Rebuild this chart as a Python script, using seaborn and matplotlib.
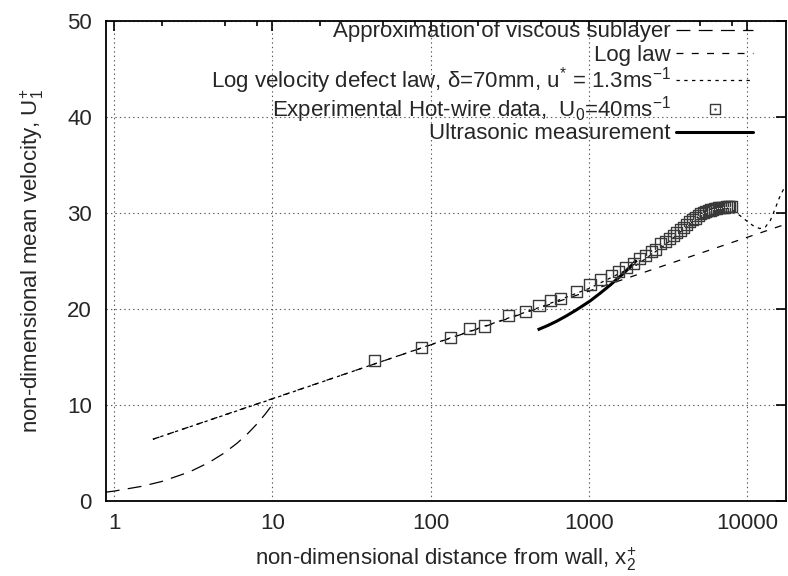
import numpy as np
import pandas as pd
import matplotlib
matplotlib.use("Agg")
import matplotlib.pyplot as plt
import seaborn as sns
from matplotlib.lines import Line2D
from matplotlib.legend import Legend
from matplotlib.legend_handler import HandlerTuple
from matplotlib.ticker import FixedLocator, NullFormatter

# ---------------- data ----------------
visc_x = [0.887, 1.0, 1.5, 2.0, 3.0, 4.0, 5.0, 6.0, 7.0, 8.0, 9.0, 10.0]
visc_y = [0.887, 1.0, 1.5, 2.0, 3.0, 4.0, 5.0, 6.0, 7.0, 8.0, 9.0, 10.0]

loglaw_x = [1.76, 17500]
loglaw_y = [6.4, 28.8]

defect_x = [1.76, 10, 100, 300, 500, 1000, 2000, 3000, 4000, 5000, 6000, 7000,
            8000, 9000, 10000, 11000, 12000, 13000, 14000, 15000, 16000, 17500]
defect_y = [6.4, 10.6, 16.25, 18.95, 20.2, 22.1, 24.55, 26.6, 28.35, 29.7, 30.45, 30.6,
            30.3, 29.7, 29.1, 28.6, 28.35, 28.5, 29.2, 30.4, 31.6, 32.9]

hw_x = [44, 88, 133, 176, 218, 310, 399, 484, 571, 660, 838, 1016, 1188, 1381, 1543,
        1715, 1909, 2081, 2285, 2470, 2650, 2850, 3030, 3220, 3400, 3590, 3780, 3960,
        4150, 4340, 4530, 4720, 4910, 5100, 5290, 5480, 5670, 5860, 6050, 6240, 6430,
        6620, 6810, 7000, 7190, 7380, 7570, 7760, 7950]
hw_y = [14.6, 16.0, 17.0, 17.9, 18.2, 19.3, 19.7, 20.35, 20.85, 21.05, 21.75, 22.5, 23.0,
        23.5, 23.9, 24.3, 24.75, 25.2, 25.5, 25.95, 26.2, 26.75, 27.0, 27.35, 27.65, 27.95,
        28.2, 28.5, 28.75, 29.05, 29.25, 29.45, 29.7, 29.9, 30.0, 30.12, 30.2, 30.28, 30.35,
        30.4, 30.45, 30.5, 30.52, 30.55, 30.58, 30.6, 30.6, 30.62, 30.62]

us_x = [474, 550, 626, 720, 838, 1016, 1175, 1371, 1660, 2004]
us_y = [17.8, 18.25, 18.7, 19.25, 19.9, 20.8, 21.6, 22.5, 23.7, 25.05]

x_ticks = [1, 10, 100, 1000, 10000]
x_tick_labels = ["1", "10", "100", "1000", "10000"]
y_ticks = [0, 10, 20, 30, 40, 50]

labels = ["Approximation of viscous sublayer",
          "Log law",
          "Log velocity defect law, δ=70mm, u$^{*}$ = 1.3ms$^{-1}$",
          "Experimental Hot-wire data,  U$_{0}$=40ms$^{-1}$",
          "Ultrasonic measurement"]

# ---------------- style ----------------
sns.set_style("white")
plt.rcParams["font.family"] = ["Liberation Sans", "DejaVu Sans"]
plt.rcParams["mathtext.fontset"] = "custom"
plt.rcParams["mathtext.rm"] = "Liberation Sans"
plt.rcParams["mathtext.it"] = "Liberation Sans"
plt.rcParams["mathtext.bf"] = "Liberation Sans:bold"
plt.rcParams["lines.scale_dashes"] = False
FS = 16

AX_L, AX_R, AX_T, AX_B = 105.7, 785.7, 20.7, 500.7
W, H = 788, 576
fig = plt.figure(figsize=(W / 100, H / 100), dpi=100)
ax = fig.add_axes([AX_L / W, 1 - AX_B / H, (AX_R - AX_L) / W, (AX_B - AX_T) / H])

d_visc = pd.DataFrame({"x": visc_x, "y": visc_y})
d_log = pd.DataFrame({"x": loglaw_x, "y": loglaw_y})
d_def = pd.DataFrame({"x": defect_x, "y": defect_y})
d_hw = pd.DataFrame({"x": hw_x, "y": hw_y})
d_us = pd.DataFrame({"x": us_x, "y": us_y})

DASH_VISC = (0, (10, 6))
DASH_LOG = (0, (5, 6))
DASH_DEF = (0, (2.4, 3.2))
EDGE = "#3a3a3a"

sns.lineplot(data=d_visc, x="x", y="y", ax=ax, color="k", lw=0.9,
             estimator=None, sort=False)
ax.lines[-1].set_linestyle(DASH_VISC)
sns.lineplot(data=d_log, x="x", y="y", ax=ax, color="k", lw=0.9,
             estimator=None, sort=False)
ax.lines[-1].set_linestyle(DASH_LOG)
sns.lineplot(data=d_def, x="x", y="y", ax=ax, color="k", lw=0.9,
             estimator=None, sort=False)
ax.lines[-1].set_linestyle(DASH_DEF)
sns.lineplot(data=d_us, x="x", y="y", ax=ax, color="k", lw=2.2,
             estimator=None, sort=False)
ax.lines[-1].set_solid_capstyle("butt")

sns.scatterplot(data=d_hw, x="x", y="y", ax=ax, marker="s", s=64,
                facecolor="none", edgecolor=EDGE, linewidth=1.0, zorder=3)
sns.scatterplot(data=d_hw, x="x", y="y", ax=ax, marker=".", s=2,
                color="#555555", linewidth=0, zorder=3)

ax.set_xscale("log")
ax.set_xlim(0.886, 17500)
ax.set_ylim(0, 50)
ax.xaxis.set_major_locator(FixedLocator(x_ticks))
ax.set_xticklabels(x_tick_labels)
minor = [m * 10 ** k for k in range(0, 5) for m in (2, 5, 8)]
ax.xaxis.set_minor_locator(FixedLocator(minor))
ax.xaxis.set_minor_formatter(NullFormatter())
ax.set_yticks(y_ticks)
ax.set_yticklabels([str(v) for v in y_ticks])

ax.grid(True, which="major", color="0.35", linestyle=(0, (1, 2.2)), linewidth=0.8)
ax.tick_params(which="both", direction="in", top=True, right=True,
               labelsize=FS, color="k", width=1.2)
ax.tick_params(which="major", length=7)
ax.tick_params(which="minor", length=3.8)
ax.tick_params(axis="x", pad=9)
ax.tick_params(axis="y", pad=10)
for s in ax.spines.values():
    s.set_linewidth(1.3)
    s.set_color("k")

ax.set_xlabel("non-dimensional distance from wall, x$_{2}^{+}$", fontsize=FS, labelpad=8)
ax.set_ylabel("non-dimensional mean velocity, U$_{1}^{+}$", fontsize=FS, labelpad=15)

# legend: one entry per row, placed like gnuplot's key
h1 = Line2D([], [], color="k", lw=0.9, linestyle=DASH_VISC)
h2 = Line2D([], [], color="k", lw=0.9, linestyle=DASH_LOG)
h3 = Line2D([], [], color="k", lw=0.9, linestyle=DASH_DEF)
h4a = Line2D([], [], color=EDGE, marker="s", markersize=7.5, markerfacecolor="none",
             linestyle="none", markeredgewidth=1.0)
h4b = Line2D([], [], color="#555555", marker=".", markersize=1.5, linestyle="none")
h5 = Line2D([], [], color="k", lw=2.2)
handles = [h1, h2, h3, (h4a, h4b), h5]
row_px = [32, 55, 80.5, 109.5, 134]
for h, lab, ypx in zip(handles, labels, row_px):
    lg = Legend(ax, [h], [lab],
                handler_map={tuple: HandlerTuple(ndivide=1, pad=0)},
                loc="center right",
                bbox_to_anchor=(0.952, (AX_B - ypx) / (AX_B - AX_T)),
                frameon=False, markerfirst=False, fontsize=FS,
                handlelength=3.45, handletextpad=0.25,
                borderpad=0, borderaxespad=0)
    ax.add_artist(lg)

fig.savefig("out.png", dpi=100)
